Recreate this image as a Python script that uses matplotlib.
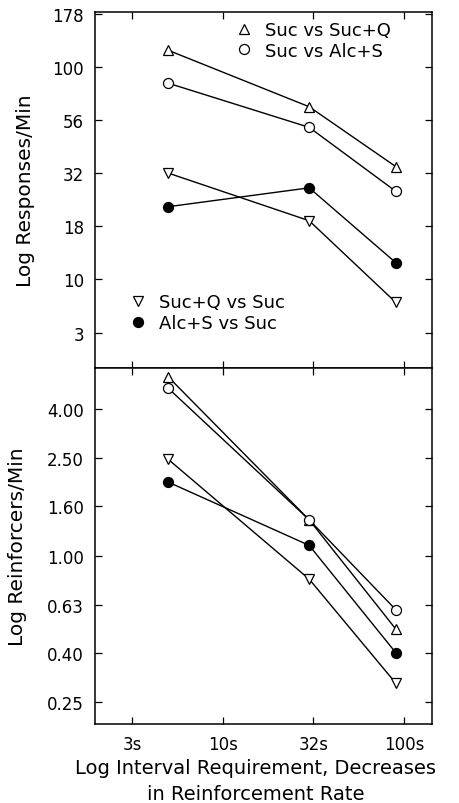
import numpy as np
import matplotlib
matplotlib.use('Agg')
import matplotlib.pyplot as plt

plt.rcParams['font.family'] = ['DejaVu Sans']

# interval requirement (s)
intervals = [5, 30, 90]

# responses / min (top panel)
resp_suc_sucq = [120, 65, 34]
resp_suc_alcs = [84, 52, 26]
resp_sucq_suc = [31.7, 18.9, 7.8]
resp_alcs_suc = [22, 27, 12]

# reinforcers / min (bottom panel)
rein_suc_sucq = [5.4, 1.40, 0.50]
rein_suc_alcs = [4.85, 1.40, 0.60]
rein_sucq_suc = [2.48, 0.80, 0.30]
rein_alcs_suc = [2.0, 1.10, 0.40]

labels = ['Suc vs Suc+Q', 'Suc vs Alc+S', 'Suc+Q vs Suc', 'Alc+S vs Suc']
markers = ['^', 'o', 'v', 'o']
faces = ['white', 'white', 'white', 'black']

x_tick_pos = 10 ** np.arange(0.5, 2.01, 0.5)
x_tick_labels = ['3s', '10s', '32s', '100s']
top_tick_pos = 10 ** np.arange(0.75, 2.26, 0.25)
top_tick_labels = ['3', '10', '18', '32', '56', '100', '178']
bot_ticks = [0.25, 0.40, 0.63, 1.00, 1.60, 2.50, 4.00]

fig = plt.figure(figsize=(4.6, 8.04), dpi=100)
ax1 = fig.add_axes([0.2065, 0.541, 0.7326, 0.4428])
ax2 = fig.add_axes([0.2065, 0.0983, 0.7326, 0.4427])

def draw(ax, series):
    lines = []
    for ys, m, fc, lab in zip(series, markers, faces, labels):
        ms = 7.5 if m in ('^', 'v') else 7.2
        l, = ax.plot(intervals, ys, color='black', lw=1.0, marker=m, ms=ms,
                     mfc=fc, mec='black', mew=0.9, label=lab, zorder=3)
        lines.append(l)
    ax.set_xscale('log')
    ax.set_yscale('log')
    ax.set_xlim(10 ** 0.296, 10 ** 2.154)
    ax.set_xticks(x_tick_pos)
    ax.minorticks_off()
    ax.tick_params(direction='in', length=5, width=0.9, top=True, right=True,
                   labelsize=12, pad=8)
    for s in ax.spines.values():
        s.set_linewidth(1.1)
    return lines

lines1 = draw(ax1, [resp_suc_sucq, resp_suc_alcs, resp_sucq_suc, resp_alcs_suc])
ax1.set_ylim(10 ** 0.583, 10 ** 2.259)
ax1.set_yticks(top_tick_pos)
ax1.set_yticklabels(top_tick_labels)
ax1.minorticks_off()
ax1.set_xticklabels([])
ax1.set_ylabel('Log Responses/Min', fontsize=14.5)
ax1.yaxis.set_label_coords(-0.178, 0.5)

leg1 = ax1.legend(lines1[:2], labels[:2], loc='upper left', bbox_to_anchor=(0.42, 0.995),
                  frameon=False, handlelength=0, handletextpad=1.2, fontsize=13,
                  labelspacing=0.15, borderaxespad=0)
ax1.add_artist(leg1)
ax1.legend(lines1[2:], labels[2:], loc='upper left', bbox_to_anchor=(0.105, 0.23),
           frameon=False, handlelength=0, handletextpad=1.2, fontsize=13,
           labelspacing=0.15, borderaxespad=0)

draw(ax2, [rein_suc_sucq, rein_suc_alcs, rein_sucq_suc, rein_alcs_suc])
ax2.set_ylim(10 ** -0.69, 10 ** 0.768)
ax2.set_yticks(bot_ticks)
ax2.set_yticklabels(['%.2f' % v for v in bot_ticks])
ax2.minorticks_off()
ax2.set_xticks(x_tick_pos)
ax2.set_xticklabels(x_tick_labels)
ax2.set_ylabel('Log Reinforcers/Min', fontsize=14.5)
ax2.yaxis.set_label_coords(-0.202, 0.5)

fig.text(0.555, 0.0, 'Log Interval Requirement, Decreases\nin Reinforcement Rate',
         ha='center', va='bottom', fontsize=14, linespacing=1.45)

fig.savefig('out.png', dpi=100)
